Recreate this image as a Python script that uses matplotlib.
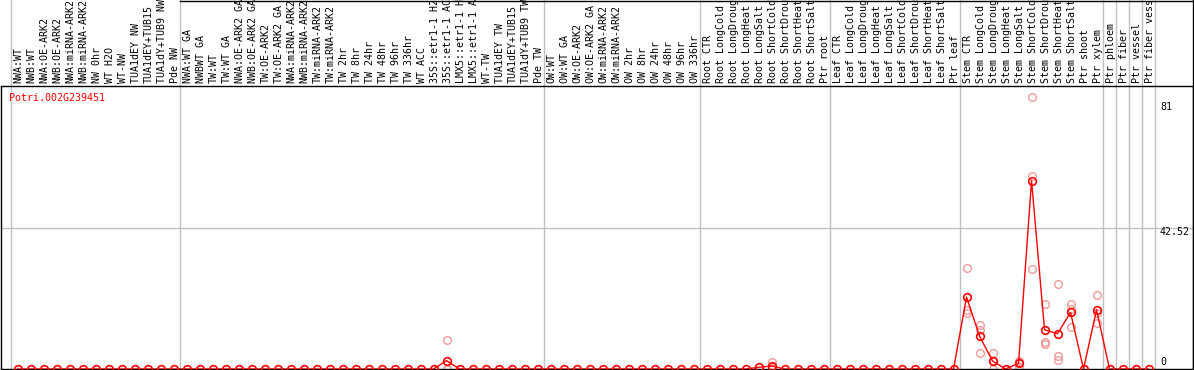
import matplotlib

matplotlib.use("Agg")
import matplotlib.pyplot as plt
from matplotlib.lines import Line2D
from matplotlib.transforms import IdentityTransform, blended_transform_factory

# sample labels, one list per group (as truncated in the source image)
nw = ["NWA:WT", "NWB:WT", "NWA:OE-ARK2", "NWB:OE-ARK2", "NWA:miRNA-ARK2",
      "NWB:miRNA-ARK2", "NW 0hr", "WT H2O", "WT-NW", "TUA1dEY NW",
      "TUA1dEY+TUB15", "TUA1dY+TUB9 NW", "Pde NW"]
tw = ["NWA:WT GA", "NWBWT GA", "TW:WT", "TW:WT GA", "NWA:OE-ARK2 GA",
      "NWB:OE-ARK2 GA", "TW:OE-ARK2", "TW:OE-ARK2 GA", "NWA:miRNA-ARK2",
      "NWB:miRNA-ARK2", "TW:miRNA-ARK2", "TW:miRNA-ARK2", "TW 2hr", "TW 8hr",
      "TW 24hr", "TW 48hr", "TW 96hr", "TW 336hr", "WT ACC", "35S::etr1-1 H2",
      "35S::etr1-1 AC", "LMX5::etr1-1 H", "LMX5::etr1-1 A", "WT-TW",
      "TUA1dEY TW", "TUA1dEY+TUB15", "TUA1dY+TUB9 TW", "Pde TW"]
ow = ["OW:WT", "OW:WT GA", "OW:OE-ARK2", "OW:OE-ARK2 GA", "OW:miRNA-ARK2",
      "OW:miRNA-ARK2", "OW 2hr", "OW 8hr", "OW 24hr", "OW 48hr", "OW 96hr",
      "OW 336hr"]
root = ["Root CTR", "Root LongCold", "Root LongDroug", "Root LongHeat",
        "Root LongSalt", "Root ShortCold", "Root ShortDrou", "Root ShortHeat",
        "Root ShortSalt", "Ptr root"]
leaf = ["Leaf CTR", "Leaf LongCold", "Leaf LongDroug", "Leaf LongHeat",
        "Leaf LongSalt", "Leaf ShortCold", "Leaf ShortDrou", "Leaf ShortHeat",
        "Leaf ShortSalt", "Ptr leaf"]
stem = ["Stem CTR", "Stem LongCold", "Stem LongDroug", "Stem LongHeat",
        "Stem LongSalt", "Stem ShortCold", "Stem ShortDrou", "Stem ShortHeat",
        "Stem ShortSalt", "Ptr shoot", "Ptr xylem"]
ptr = ["Ptr phloem", "Ptr fiber", "Ptr vessel", "Ptr fiber vess"]
groups = [nw, tw, ow, root, leaf, stem] + [[p] for p in ptr]

# mean expression per group
mean_nw = [0] * 13
mean_tw = [0] * 20 + [2.5] + [0] * 7
mean_ow = [0] * 12
mean_root = [0, 0, 0, 0, 0.5, 0.9, 0, 0, 0, 0]
mean_leaf = [0] * 10
mean_stem = [21.6, 9.9, 2.4, 0, 1.7, 56.6, 11.8, 10.6, 17.0, 0, 17.8]
mean_ptr = [0, 0, 0, 0]

# replicate values for the non-zero samples
rep_labels = ["35S::etr1-1 AC", "Root ShortCold", "Stem CTR", "Stem LongCold",
              "Stem LongDroug", "Stem LongSalt", "Stem ShortCold",
              "Stem ShortDrou", "Stem ShortHeat", "Stem ShortSalt", "Ptr xylem"]
rep_values = [[8.6, 0, 0], [2.0, 0.5, 0.3], [30.4, 17.8, 16.8],
              [13.3, 11.6, 4.7], [4.7, 2.4, 0], [2.4, 2.0, 0.7],
              [81.6, 58.0, 30.1], [19.6, 8.2, 7.5], [25.6, 3.9, 2.7],
              [19.6, 18.0, 12.6], [22.3, 16.8, 13.8]]

gene = "Potri.002G239451"
ytick_vals = [81, 42.52, 0]
ymax = 85.04

labels = nw + tw + ow + root + leaf + stem + ptr
means = mean_nw + mean_tw + mean_ow + mean_root + mean_leaf + mean_stem + mean_ptr
xs = list(range(len(labels)))

W, H = 1194, 370
fig = plt.figure(figsize=(W / 100, H / 100), dpi=100)
# plot box in pixels: x 1..1193, y 86..369 (from top)
ax = fig.add_axes([1 / W, 1 / H, 1192 / W, 283 / H])
ax.set_xlim(-1.27, 90.42)
ax.set_ylim(0, ymax)
ax.set_xticks([])
ax.set_yticks([])
for s in ax.spines.values():
    s.set_color("black")
    s.set_linewidth(1)

mono = "DejaVu Sans Mono"
fs = 7.2

# group separators, extending up through the label header
bounds = [0]
for g in groups:
    bounds.append(bounds[-1] + len(g))
for b in bounds:
    ax.axvline(b - 0.5, ymin=0, ymax=1 + 86 / 283, color="#c0c0c0",
               lw=1, clip_on=False, zorder=1)
ax.axhline(42.52, color="#c0c0c0", lw=1, zorder=1)

# header top line and right edge
fig.add_artist(Line2D([180 / W, 1193 / W], [1 - 0.5 / H, 1 - 0.5 / H],
                      color="black", lw=1, transform=fig.transFigure))
fig.add_artist(Line2D([1193 / W, 1193 / W], [1, 0], color="black", lw=1,
                      transform=fig.transFigure))

trans = blended_transform_factory(ax.transData, ax.transAxes)
for x, lab in zip(xs, labels):
    ax.text(x + 0.1, 1 + 3 / 283, lab, rotation=90, ha="center", va="bottom",
            family=mono, fontsize=fs, transform=trans, clip_on=False)

# replicates
for lab, vals in zip(rep_labels, rep_values):
    i = labels.index(lab)
    ax.plot([i] * len(vals), vals, ls="none", marker="o", ms=5.5,
            mfc="none", mec="#f09a9a", mew=1, zorder=2)

ax.plot(xs, means, color="red", lw=1, marker="o", ms=5.5, mfc="none",
        mec="red", mew=1.2, zorder=3)

ax.text(8 / 1192, 1 - 12 / 283, gene, color="red", family=mono, fontsize=fs,
        transform=ax.transAxes, ha="left", va="center")

# right-hand value labels, placed where the source draws them
ypix = {81: 107, 42.52: 232, 0: 362}
lab_trans = blended_transform_factory(IdentityTransform(), ax.transAxes)
for v in ytick_vals:
    ax.text(1160, 1 - (ypix[v] - 86) / 283, f"{v:g}", family=mono,
            fontsize=fs, ha="left", va="center", transform=lab_trans)

fig.savefig("out.png", dpi=100)
